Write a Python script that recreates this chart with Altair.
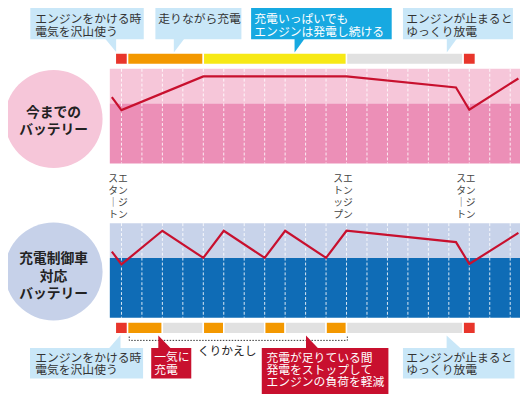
import altair as alt
import pandas as pd

FONT = "Noto Sans CJK JP"

# ---------------- data ----------------
GRID_T = list(range(20))            # dashed time grid (time steps)
REST_LEVEL = 63.3                   # boundary between light / dark zone (%)

CONV_T = [-0.47, 0, 4, 11, 16.35, 17, 19.4]
CONV_LEVEL = [70, 56.4, 92, 92, 80.3, 56.8, 89.8]

CTRL_T = [-0.47, 0, 2, 4, 5, 7, 8, 10, 11, 16.35, 17, 19.4]
CTRL_LEVEL = [70, 56.4, 92, 63.3, 92, 63.3, 92, 63.3, 92, 80, 56.8, 89.8]

CONV_PHASE_FROM = [-0.3, 0.3, 4.0, 11.0, 16.7]
CONV_PHASE_TO = [0.3, 4.0, 11.0, 16.7, 17.3]
CONV_PHASE_KIND = ["start", "charge", "full", "discharge", "start"]

CTRL_PHASE_FROM = [-0.3, 0.3, 2, 4, 5, 7, 8, 10, 11, 16.7]
CTRL_PHASE_TO = [0.3, 2, 4, 5, 7, 8, 10, 11, 16.7, 17.3]
CTRL_PHASE_KIND = ["start", "charge", "idle", "charge", "idle", "charge",
                   "idle", "charge", "discharge", "start"]

REPEAT_FROM, REPEAT_TO = 0.38, 11.04

EVENT_T = [0, 11, 17]
EVENT_COL_RIGHT = ["エンジン", "エンジン", "エンジン"]
EVENT_COL_LEFT = ["スタート", "ストップ", "スタート"]

PHASE_COLORS = {"start": "#e8352b", "charge": "#f39800", "full": "#f7e916",
                "idle": "#e1e1e1", "discharge": "#e1e1e1"}

CRIMSON = "#c8102e"
LIGHTBLUE = "#c9e7f8"
CYAN = "#17a9e1"

# ---------------- layout ----------------
T0_PX, STEP_PX = 117, 21.1
PIC_W, PIC_H = 528, 394
W, H = 520, 386


def tx(px):
    return (px - T0_PX) / STEP_PX


XS = alt.Scale(domain=[tx(0), tx(PIC_W)], nice=False, zero=False)
YS = alt.Scale(domain=[0, PIC_H], reverse=True, nice=False, zero=False)


def X(f):
    return alt.X(f"{f}:Q", scale=XS, axis=None)


def Y(f):
    return alt.Y(f"{f}:Q", scale=YS, axis=None)


PANELS = [
    dict(name="conv", top=60, bottom=158, light="#f6c6d9", dark="#ec8fb7",
         t=CONV_T, level=CONV_LEVEL, bar=(43.5, 55.5),
         phases=(CONV_PHASE_FROM, CONV_PHASE_TO, CONV_PHASE_KIND),
         circle_y=112, circle_fill="#f6c6d9",
         circle_text="今までの\nバッテリー", circle_text_y=99, circle_lh=16.7),
    dict(name="ctrl", top=220, bottom=318, light="#c8d3ea", dark="#0f6cb6",
         t=CTRL_T, level=CTRL_LEVEL, bar=(322.5, 334.5),
         phases=(CTRL_PHASE_FROM, CTRL_PHASE_TO, CTRL_PHASE_KIND),
         circle_y=270, circle_fill="#c6d1e9",
         circle_text="充電制御車\n対応\nバッテリー", circle_text_y=250.5, circle_lh=17.5),
]

LV = "datum.bottom - (datum.bottom - datum.top) * datum.{} / 100"

layers = []

# circles
circ = pd.DataFrame([dict(x=tx(47), y=p["circle_y"], fill=p["circle_fill"]) for p in PANELS])
layers.append(alt.Chart(circ).mark_circle(opacity=1, size=9900).encode(
    x=X("x"), y=Y("y"), color=alt.Color("fill:N", scale=None)))

# panel backgrounds
bg_rows = []
for p in PANELS:
    bg_rows.append(dict(x=tx(105), x2=tx(PIC_W), lv=100, lv2=REST_LEVEL,
                        top=p["top"], bottom=p["bottom"], fill=p["light"]))
    bg_rows.append(dict(x=tx(105), x2=tx(PIC_W), lv=REST_LEVEL, lv2=0,
                        top=p["top"], bottom=p["bottom"], fill=p["dark"]))
layers.append(alt.Chart(pd.DataFrame(bg_rows)).transform_calculate(
    y=LV.format("lv"), y2=LV.format("lv2")).mark_rect().encode(
    x=X("x"), x2="x2:Q", y=Y("y"), y2="y2:Q", fill=alt.Fill("fill:N", scale=None)))

# dashed grid
grid = pd.DataFrame([dict(t=t, top=p["top"], bottom=p["bottom"]) for p in PANELS for t in GRID_T])
layers.append(alt.Chart(grid).mark_rule(color="white", strokeDash=[3, 2], strokeWidth=1, opacity=0.85).encode(
    x=X("t"), y=Y("top"), y2="bottom:Q"))

# battery lines
ln = pd.DataFrame([dict(panel=p["name"], t=t, level=l, top=p["top"], bottom=p["bottom"])
                   for p in PANELS for t, l in zip(p["t"], p["level"])])
layers.append(alt.Chart(ln).transform_calculate(y=LV.format("level")).mark_line(
    color=CRIMSON, strokeWidth=2.2).encode(x=X("t"), y=Y("y"), detail="panel:N"))

# phase bars
ph_rows = []
for p in PANELS:
    for a, b, k in zip(*p["phases"]):
        ph_rows.append(dict(t0=a, t1=b, y0=p["bar"][0], y1=p["bar"][1], fill=PHASE_COLORS[k]))
layers.append(alt.Chart(pd.DataFrame(ph_rows)).mark_rect(stroke="white", strokeWidth=1.5).encode(
    x=X("t0"), x2="t1:Q", y=Y("y0"), y2="y1:Q", fill=alt.Fill("fill:N", scale=None)))

# repeat bracket
br = pd.DataFrame(dict(t=[REPEAT_FROM, REPEAT_FROM, REPEAT_TO, REPEAT_TO],
                       y=[337.5, 341.5, 341.5, 337.5], o=[0, 1, 2, 3]))
layers.append(alt.Chart(br).mark_line(color="#333333", strokeDash=[1.5, 1.5], strokeWidth=1).encode(
    x=X("t"), y=Y("y"), order="o:Q"))

# callouts: box (x0, y0, x1, y1); pointer (x of vertical edge, x of far base corner, y base, y apex)
CALLOUTS = [
    dict(box=(23, -5, 140, 29.3), fill=LIGHTBLUE, tc="#333333", text="エンジンをかける時\n電気を沢山使う",
         tpos=(28, 3.3), lh=13, ptr=(111.5, 100, 28.5, 42.5)),
    dict(box=(152, -5, 240.7, 29.3), fill=LIGHTBLUE, tc="#333333", text="走りながら充電",
         tpos=(155, 3.3), lh=13, ptr=(171, 182, 28.5, 43)),
    dict(box=(250.7, -5, 395.7, 29.3), fill=CYAN, tc="white", text="充電いっぱいでも\nエンジンは発電し続ける",
         tpos=(254, 3.3), lh=13, ptr=(295.5, 306, 28.5, 43)),
    dict(box=(407.3, -5, 520.7, 29.3), fill=LIGHTBLUE, tc="#333333", text="エンジンが止まると\nゆっくり放電",
         tpos=(410.7, 3.3), lh=13, ptr=(452.5, 463, 28.5, 43)),
    dict(box=(22.7, 349.3, 139.3, 381), fill=LIGHTBLUE, tc="#333333", text="エンジンをかける時\n電気を沢山使う",
         tpos=(28, 355), lh=12, ptr=(116, 104, 350, 336)),
    dict(box=(147.7, 349.3, 189, 381), fill=CRIMSON, tc="white", text="一気に\n充電",
         tpos=(150.7, 353.5), lh=13, ptr=(155, 168, 350, 336.5)),
    dict(box=(261.7, 349.3, 392.3, 400), fill=CRIMSON, tc="white",
         text="充電が足りている間\n発電をストップして\nエンジンの負荷を軽減",
         tpos=(266.5, 355), lh=12, ptr=(307.3, 320, 350, 336.5)),
    dict(box=(407.3, 349.3, 522.3, 381), fill=LIGHTBLUE, tc="#333333", text="エンジンが止まると\nゆっくり放電",
         tpos=(410.7, 355), lh=12, ptr=(452.3, 467, 350, 336.5)),
]

boxes = pd.DataFrame([dict(x=tx(c["box"][0]), x2=tx(c["box"][2]), y=c["box"][1], y2=c["box"][3],
                           fill=c["fill"]) for c in CALLOUTS])
layers.append(alt.Chart(boxes).mark_rect().encode(
    x=X("x"), x2="x2:Q", y=Y("y"), y2="y2:Q", fill=alt.Fill("fill:N", scale=None)))

ptr_rows = []
for i, c in enumerate(CALLOUTS):
    xv, xf, yb, ya = c["ptr"]
    ptr_rows.append(dict(id=i, x=tx(xv), y=yb, y2=ya, fill=c["fill"]))
    ptr_rows.append(dict(id=i, x=tx(xf), y=yb, y2=yb, fill=c["fill"]))
layers.append(alt.Chart(pd.DataFrame(ptr_rows)).mark_area(opacity=1).encode(
    x=X("x"), y=alt.Y("y:Q", scale=YS, axis=None, stack=None), y2="y2:Q",
    detail="id:N", fill=alt.Fill("fill:N", scale=None)))

for c in CALLOUTS:
    d = pd.DataFrame([dict(x=tx(c["tpos"][0]), y=c["tpos"][1], text=c["text"], tc=c["tc"])])
    layers.append(alt.Chart(d).mark_text(align="left", baseline="top", lineBreak="\n", font=FONT,
                                         fontSize=12, lineHeight=c["lh"]).encode(
        x=X("x"), y=Y("y"), text="text:N", color=alt.Color("tc:N", scale=None)))

# circle texts
for p in PANELS:
    d = pd.DataFrame([dict(x=tx(47), y=p["circle_text_y"], text=p["circle_text"])])
    layers.append(alt.Chart(d).mark_text(align="center", baseline="top", lineBreak="\n", font=FONT,
                                         fontSize=14, fontWeight="bold", lineHeight=p["circle_lh"],
                                         color="#222222").encode(
        x=X("x"), y=Y("y"), text="text:N"))

# repeat label
d = pd.DataFrame([dict(x=tx(226), y=347, text="くりかえし")])
layers.append(alt.Chart(d).mark_text(align="center", baseline="top", font=FONT, fontSize=12,
                                     color="#222222").encode(x=X("x"), y=Y("y"), text="text:N"))


# vertical event labels
def vert(s):
    return "\n".join(ch if ch != "ー" else "｜" for ch in s)


ev_rows = []
for t, r, l in zip(EVENT_T, EVENT_COL_RIGHT, EVENT_COL_LEFT):
    ev_rows.append(dict(x=t + 1.5 / STEP_PX, y=169.5, text=vert(r)))
    ev_rows.append(dict(x=t - 8.5 / STEP_PX, y=169.5, text=vert(l)))
layers.append(alt.Chart(pd.DataFrame(ev_rows)).mark_text(align="center", baseline="top", lineBreak="\n",
                                                         font=FONT, fontSize=10, lineHeight=12,
                                                         color="#444444").encode(
    x=X("x"), y=Y("y"), text="text:N"))

chart = alt.layer(*layers).properties(
    width=W, height=H, padding=0,
    autosize=alt.AutoSizeParams(type="none"),
    background="white",
).configure_view(stroke=None)

chart.save("out.html", embed_options={"renderer": "svg", "actions": False})
